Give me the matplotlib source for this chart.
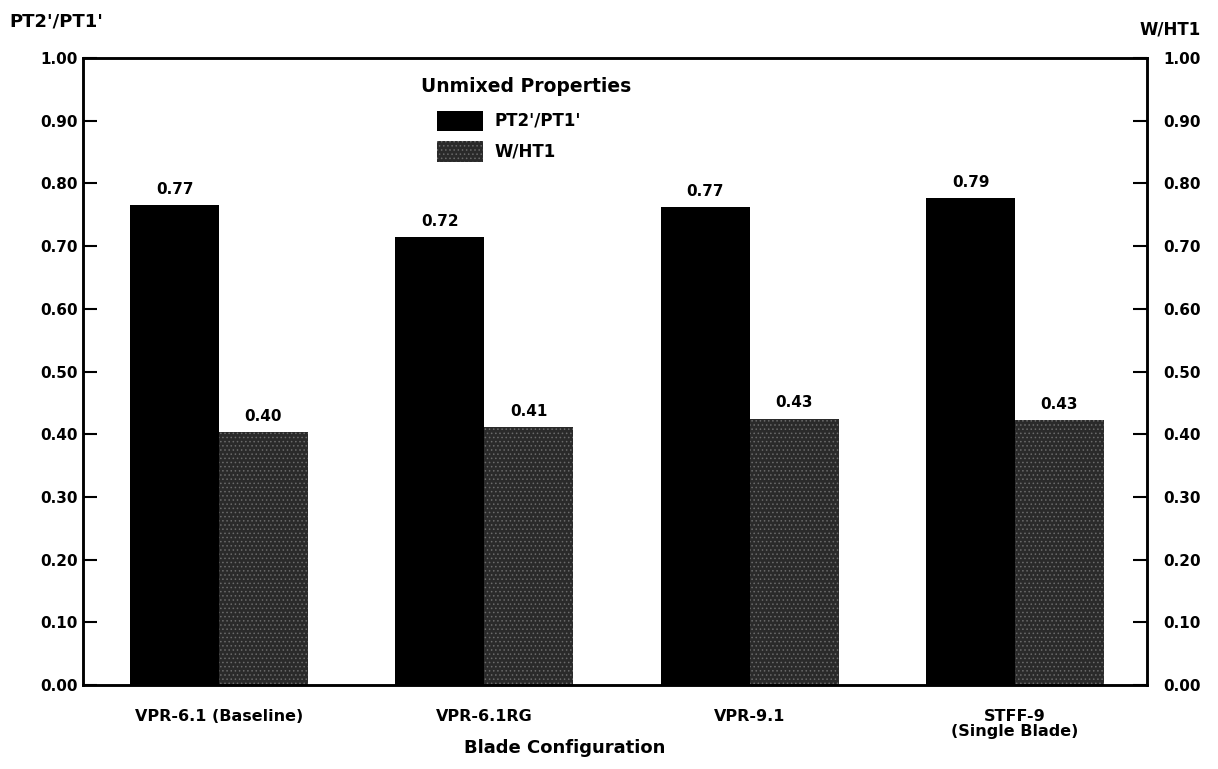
import numpy as np
import matplotlib
matplotlib.use("Agg")
import matplotlib.pyplot as plt
from matplotlib.patches import Rectangle

# data
configs = ["VPR-6.1 (Baseline)", "VPR-6.1RG", "VPR-9.1", "STFF-9\n(Single Blade)"]
pt_ratio = [0.765, 0.714, 0.762, 0.776]
pt_labels = ["0.77", "0.72", "0.77", "0.79"]
w_ht1 = [0.403, 0.411, 0.425, 0.422]
w_labels = ["0.40", "0.41", "0.43", "0.43"]
yticks = [0.0, 0.1, 0.2, 0.3, 0.4, 0.5, 0.6, 0.7, 0.8, 0.9, 1.0]

plt.rcParams['font.family'] = ['DejaVu Sans']
plt.rcParams['font.weight'] = 'bold'
plt.rcParams['hatch.linewidth'] = 0.6

fig = plt.figure(figsize=(12.18, 7.69), dpi=100)
ax = fig.add_axes([0.0681, 0.1092, 0.8736, 0.8154])

x = np.arange(len(configs))
w = 0.335
grey_kw = dict(facecolor='#2a2a2a', edgecolor='#6a6a6a', linewidth=0, hatch='....')

b1 = ax.bar(x - w / 2, pt_ratio, w, color='black', linewidth=0)
b2 = ax.bar(x + w / 2, w_ht1, w, **grey_kw)

for rect, lab in zip(b1, pt_labels):
    ax.text(rect.get_x() + rect.get_width() / 2, rect.get_height() + 0.013, lab,
            ha='center', va='bottom', fontsize=11, fontweight='bold')
for rect, lab in zip(b2, w_labels):
    ax.text(rect.get_x() + rect.get_width() / 2, rect.get_height() + 0.013, lab,
            ha='center', va='bottom', fontsize=11, fontweight='bold')

ax.set_xlim(-0.513, 3.4975)
ax.set_ylim(0, 1.0)
ax.set_yticks(yticks)
ax.set_yticklabels([f"{t:.2f}" for t in yticks], fontsize=11, fontweight='bold')
ax.set_xticks(x)
ax.set_xticklabels(configs, fontsize=11.5, fontweight='bold', linespacing=1.05)
ax.tick_params(axis='x', length=0, pad=17)
ax.tick_params(axis='y', direction='in', length=10, width=1.5, pad=4)
for s in ax.spines.values():
    s.set_linewidth(1.8)

ax2 = ax.twinx()
ax2.set_ylim(0, 1.0)
ax2.set_yticks(yticks)
ax2.set_yticklabels([f"{t:.2f}" for t in yticks], fontsize=11, fontweight='bold')
ax2.tick_params(axis='y', direction='in', length=10, width=1.5, pad=12)
for s in ax2.spines.values():
    s.set_linewidth(1.8)

fig.text(0.008, 0.972, "PT2'/PT1'", fontsize=13, fontweight='bold', va='center', ha='left')
fig.text(0.986, 0.961, "W/HT1", fontsize=12, fontweight='bold', va='center', ha='right')
fig.text(0.464, 0.016, "Blade Configuration", fontsize=13, fontweight='bold', ha='center', va='bottom')

# legend drawn by hand to match the original spacing
fig.text(0.432, 0.887, "Unmixed Properties", fontsize=13.5, fontweight='bold', ha='center', va='center')
fig.add_artist(Rectangle((0.3588, 0.8427 - 0.0137), 0.0378, 0.0273, transform=fig.transFigure,
                         facecolor='black', linewidth=0))
fig.add_artist(Rectangle((0.3588, 0.8036 - 0.0137), 0.0378, 0.0273, transform=fig.transFigure,
                         **grey_kw))
fig.text(0.4064, 0.8427, "PT2'/PT1'", fontsize=12, fontweight='bold', va='center', ha='left')
fig.text(0.4064, 0.8036, "W/HT1", fontsize=12, fontweight='bold', va='center', ha='left')

plt.savefig('out.png', dpi=100)
